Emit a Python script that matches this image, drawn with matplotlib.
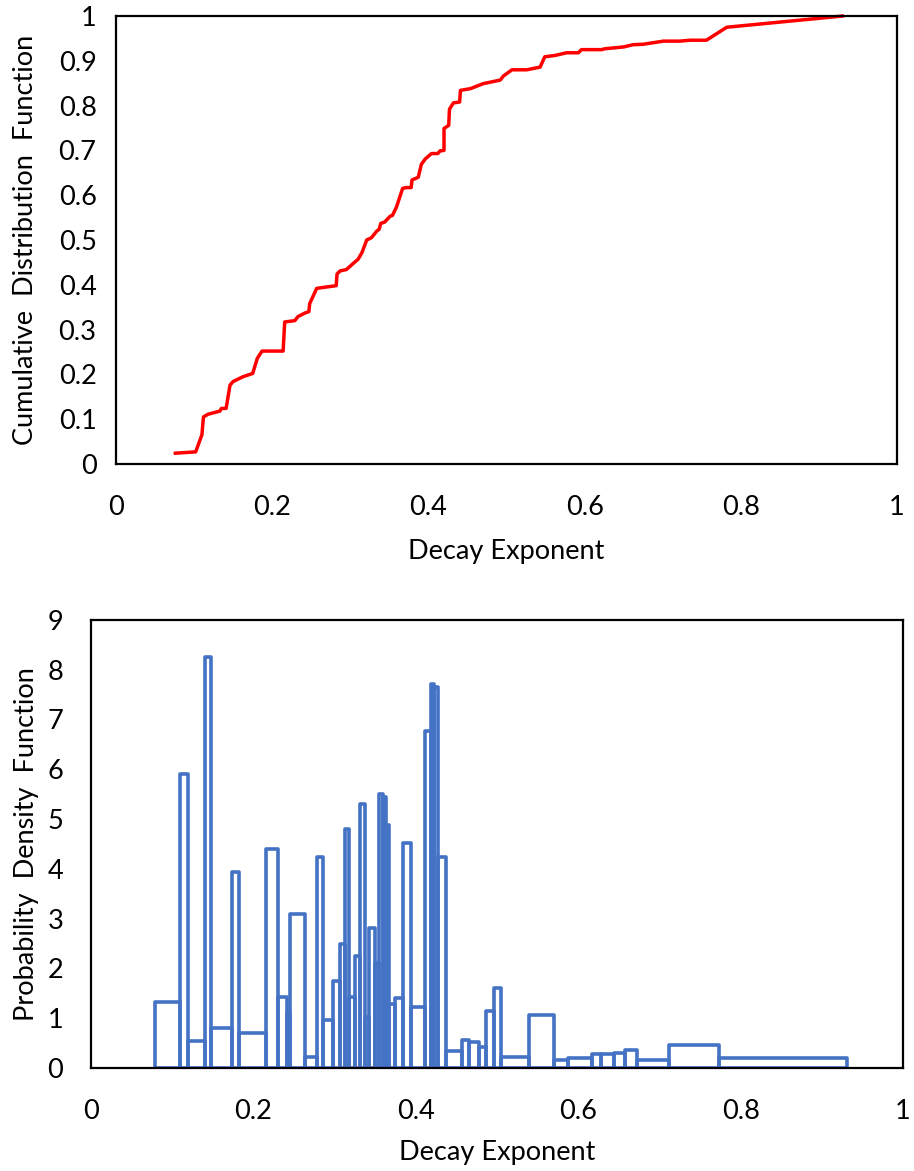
import numpy as np
import matplotlib
matplotlib.use("Agg")
import matplotlib.pyplot as plt
from matplotlib.ticker import FormatStrFormatter, FuncFormatter

plt.rcParams['font.family'] = ['Lato', 'DejaVu Sans']

# CDF curve
cdf_x = [0.076, 0.102, 0.110, 0.112, 0.118, 0.133, 0.135, 0.141, 0.146, 0.150,
         0.163, 0.175, 0.181, 0.187, 0.214, 0.216, 0.229, 0.233, 0.242, 0.247,
         0.248, 0.257, 0.265, 0.282, 0.283, 0.287, 0.295, 0.304, 0.310, 0.315,
         0.321, 0.327, 0.334, 0.337, 0.339, 0.344, 0.351, 0.354, 0.359, 0.367,
         0.371, 0.378, 0.379, 0.387, 0.391, 0.396, 0.404, 0.412, 0.415, 0.420,
         0.420, 0.426, 0.427, 0.432, 0.440, 0.441, 0.454, 0.470, 0.492, 0.496,
         0.507, 0.526, 0.543, 0.549, 0.562, 0.577, 0.592, 0.596, 0.622, 0.626,
         0.650, 0.662, 0.675, 0.701, 0.722, 0.735, 0.756, 0.782, 0.930]
cdf_y = [0.024, 0.027, 0.065, 0.105, 0.111, 0.118, 0.124, 0.124, 0.176, 0.184,
         0.195, 0.202, 0.236, 0.252, 0.252, 0.317, 0.320, 0.329, 0.337, 0.340,
         0.358, 0.392, 0.394, 0.398, 0.424, 0.431, 0.434, 0.448, 0.457, 0.472,
         0.500, 0.505, 0.520, 0.524, 0.537, 0.540, 0.553, 0.555, 0.573, 0.615,
         0.617, 0.617, 0.634, 0.640, 0.669, 0.681, 0.693, 0.693, 0.699, 0.700,
         0.749, 0.756, 0.792, 0.806, 0.808, 0.834, 0.838, 0.849, 0.857, 0.866,
         0.880, 0.880, 0.886, 0.909, 0.912, 0.918, 0.918, 0.925, 0.925, 0.927,
         0.931, 0.936, 0.937, 0.944, 0.944, 0.946, 0.946, 0.975, 1.000]

# PDF bars: bin edges and heights
pdf_edges = [0.079, 0.110, 0.119, 0.140, 0.148, 0.174, 0.182, 0.2155, 0.2305, 0.241,
             0.2445, 0.264, 0.278, 0.2855, 0.2984, 0.3066, 0.3122, 0.318, 0.3251, 0.3318,
             0.3374, 0.3418, 0.3498, 0.355, 0.359, 0.3629, 0.367, 0.3744, 0.3848, 0.394,
             0.4118, 0.4183, 0.4225, 0.427, 0.437, 0.4565, 0.4659, 0.4782, 0.4865, 0.4963,
             0.505, 0.539, 0.570, 0.5878, 0.6174, 0.6277, 0.6445, 0.6576, 0.6728, 0.7122,
             0.773, 0.9307]
pdf_heights = [1.33, 5.90, 0.54, 8.26, 0.81, 3.94, 0.70, 4.39, 1.42, 1.10,
               3.10, 0.23, 4.23, 0.97, 1.75, 2.50, 4.81, 1.42, 2.24, 5.31,
               1.03, 2.82, 2.10, 5.50, 5.45, 4.88, 1.29, 1.40, 4.51, 1.23,
               6.77, 7.71, 7.65, 4.23, 0.35, 0.56, 0.52, 0.43, 1.15, 1.61,
               0.21, 1.06, 0.15, 0.19, 0.29, 0.28, 0.31, 0.37, 0.16, 0.46,
               0.19]

fs = 19.5

fig = plt.figure(figsize=(9.14, 11.71), dpi=100)
ax1 = fig.add_axes([0.1269, 0.6038, 0.8545, 0.3825])
ax2 = fig.add_axes([0.0996, 0.0880, 0.8884, 0.3826])

# top: CDF
ax1.plot(cdf_x, cdf_y, color='#FF0000', lw=2.5, solid_joinstyle='round', clip_on=False)
ax1.set_xlim(0, 1)
ax1.set_ylim(0, 1)
ax1.set_xticks(np.arange(0, 1.01, 0.2))
ax1.set_yticks(np.arange(0, 1.01, 0.1))
fmt = FuncFormatter(lambda v, p: ('%.1f' % v).rstrip('0').rstrip('.') if v not in (0, 1) else '%d' % v)
ax1.xaxis.set_major_formatter(fmt)
ax1.yaxis.set_major_formatter(fmt)
ax1.tick_params(axis='y', length=0, pad=14, labelsize=fs)
ax1.tick_params(axis='x', length=0, pad=22, labelsize=fs)
ax1.set_xlabel('Decay Exponent', fontsize=fs, labelpad=14)
ax1.set_ylabel('Cumulative  Distribution  Function', fontsize=fs)
ax1.yaxis.set_label_coords(-0.100, 0.5)

# bottom: PDF
widths = np.diff(pdf_edges)
ax2.bar(pdf_edges[:-1], pdf_heights, width=widths, align='edge', fill=False,
        edgecolor='#4472C4', linewidth=2.6, joinstyle='round')
ax2.set_xlim(0, 1)
ax2.set_ylim(0, 9)
ax2.set_xticks(np.arange(0, 1.01, 0.2))
ax2.set_yticks(np.arange(0, 9.1, 1))
ax2.xaxis.set_major_formatter(fmt)
ax2.yaxis.set_major_formatter(FormatStrFormatter('%d'))
ax2.tick_params(axis='y', length=0, pad=20, labelsize=fs)
ax2.tick_params(axis='x', length=0, pad=22, labelsize=fs)
ax2.set_xlabel('Decay Exponent', fontsize=fs, labelpad=12)
ax2.set_ylabel('Probability  Density  Function', fontsize=fs)
ax2.yaxis.set_label_coords(-0.064, 0.5)

for ax in (ax1, ax2):
    for s in ax.spines.values():
        s.set_linewidth(1.6)
        s.set_color('black')

fig.savefig('out.png', dpi=100)
